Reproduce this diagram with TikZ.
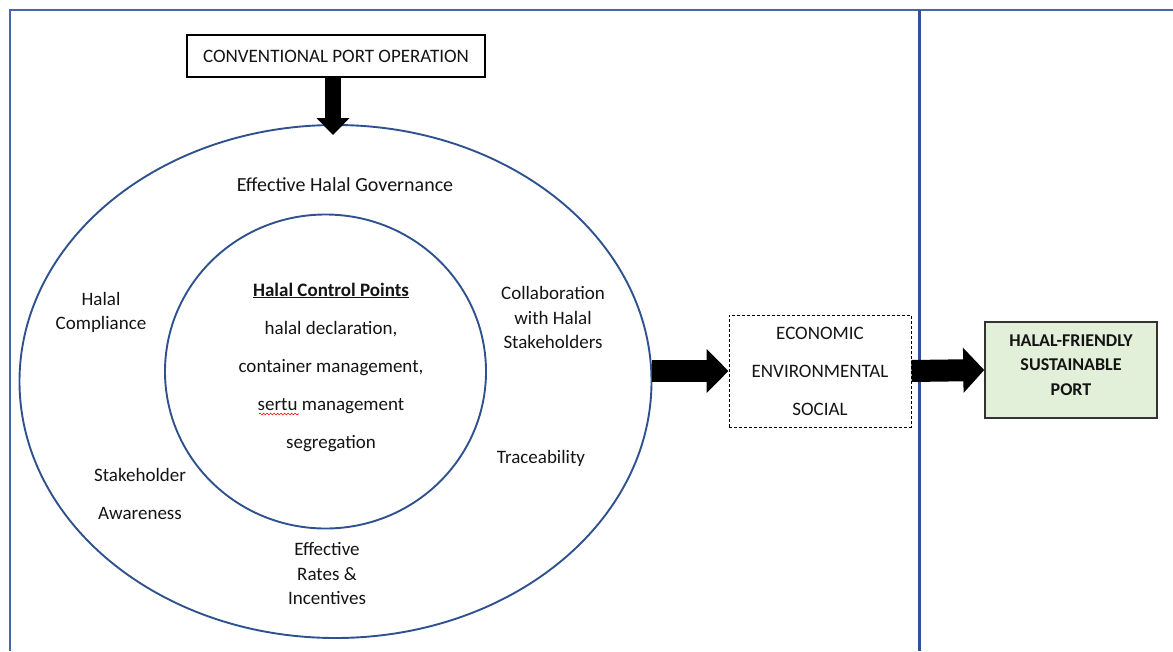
\documentclass[tikz,border=0pt]{standalone}
\usepackage{fontspec}
\setmainfont{Carlito}
\usetikzlibrary{arrows.meta,decorations.pathmorphing,shapes.geometric,calc}
\definecolor{ringblue}{HTML}{2F528F}
\definecolor{frameblue}{HTML}{4468AC}
\definecolor{lineblue}{HTML}{2F5496}
\definecolor{greenfill}{HTML}{E2EFD9}
\definecolor{txt}{HTML}{141414}
\begin{document}
\begin{tikzpicture}[x=1pt,y=-1pt,
  every node/.style={text=txt, font=\fontsize{19}{24.5}\selectfont, inner sep=0pt, align=center},
  ring/.style={draw=ringblue, line width=1.9pt, ellipse},
  wide/.style={font=\fontsize{19}{38}\selectfont},
  ]
\useasboundingbox (0,0) rectangle (1173,651);
% frame
\draw[frameblue, line width=2pt] (10,651) -- (10,10) -- (1173,10);
\draw[lineblue, line width=3pt] (919,10) -- (919,651);

% rings
\node[ring, minimum width=632pt, minimum height=513pt] (outer) at (335.5,381.5) {};
\node[ring, minimum width=321pt, minimum height=314pt] (inner) at (325.5,371.5) {};

% boxes
\node[draw=black, line width=1.1pt, minimum width=298pt, minimum height=42pt] (cpo) at (336,56) {CONVENTIONAL PORT OPERATION};
\node[draw=black, line width=1pt, dash pattern=on 3pt off 2pt, minimum width=182pt, minimum height=112pt, wide] (eco) at (820,371) {ECONOMIC\\ENVIRONMENTAL\\SOCIAL};
\node[draw=black!80, fill=greenfill, line width=1.5pt, minimum width=172pt, minimum height=96pt] (port) at (1071,370) {};
\node[font=\bfseries\fontsize{18}{24.5}\selectfont] (porttext) at (1071,365) {HALAL-FRIENDLY\\SUSTAINABLE\\PORT};

% labels
\node[font=\fontsize{20}{24.5}\selectfont] (gov) at (345,185) {Effective Halal Governance};
\node (comp) at (101,312.5) {Halal\\Compliance};
\node[wide] (hcp) at (331,367) {\underline{\textbf{Halal Control Points}}\\halal declaration,\\container management,\\sertu management\\segregation};
\node (collab) at (553,317.5) {Collaboration\\with Halal\\Stakeholders};
\node (trace) at (541,458) {Traceability};
\node[wide] (aware) at (140,494) {Stakeholder\\Awareness};
\node (rates) at (327,573.5) {Effective\\Rates \&\\Incentives};

% spelling mark
\draw[red, line width=0.6pt, decorate, decoration={snake, amplitude=0.9pt, segment length=3.5pt}] (259,414) -- (299,414);

% block arrows
\draw[line width=16pt, -{Triangle[length=17pt,width=32pt]}, shorten >=-11pt] ($(cpo.south)+(-3,0)$) -- ($(outer.north)+(-2.5,0)$);
\draw[line width=22pt, -{Triangle[length=22pt,width=43pt]}] (outer.east |- eco.west) -- (eco.west);
\draw[line width=22pt, -{Triangle[length=21pt,width=44pt]}] (eco.east) -- (port.west);
\end{tikzpicture}
\end{document}
